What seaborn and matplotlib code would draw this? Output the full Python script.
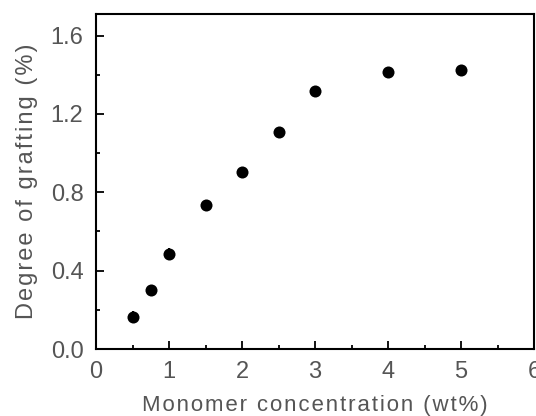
import numpy as np
import pandas as pd
import matplotlib
matplotlib.use("Agg")
import matplotlib.pyplot as plt
import seaborn as sns
from matplotlib.ticker import MultipleLocator

# data
conc = [0.5, 0.75, 1.0, 1.5, 2.0, 2.5, 3.0, 4.0, 5.0]
grafting = [0.165, 0.30, 0.485, 0.735, 0.905, 1.11, 1.315, 1.415, 1.425]
err = [0.03, 0.015, 0.03, 0.01, 0.025, 0.01, 0.01, 0.01, 0.01]

df = pd.DataFrame({"conc": conc, "grafting": grafting})

sns.set_style("white")
plt.rcParams["font.family"] = ["Liberation Sans", "DejaVu Sans"]


def spaced(s):
    # loose letter spacing like the original scan
    return "\u200a".join(s)


fig = plt.figure(figsize=(5.36, 4.16), dpi=100)
ax = fig.add_axes([96 / 536, 1 - 349 / 416, (534 - 96) / 536, (349 - 14) / 416])

ax.errorbar(conc, grafting, yerr=err, fmt="none", ecolor="black", elinewidth=1.5, capsize=0)
sns.scatterplot(data=df, x="conc", y="grafting", ax=ax, color="black",
                s=75, edgecolor="black", linewidth=0, zorder=3)

ax.set_xlim(0, 6)
ax.set_ylim(0, 1.71)
ax.xaxis.set_major_locator(MultipleLocator(1))
ax.xaxis.set_minor_locator(MultipleLocator(0.5))
ax.yaxis.set_major_locator(MultipleLocator(0.4))
ax.yaxis.set_minor_locator(MultipleLocator(0.2))
ax.yaxis.set_major_formatter(matplotlib.ticker.FormatStrFormatter("%.1f"))

ax.tick_params(which="both", direction="in", colors="black", labelcolor="#555555",
               labelsize=17, top=False, right=False, bottom=True, left=True)
ax.tick_params(which="major", length=6, width=1.3, pad=9)
ax.tick_params(which="minor", length=3, width=1.3)

for s in ax.spines.values():
    s.set_color("black")
    s.set_linewidth(1.5)

ax.set_xlabel(spaced("Monomer concentration (wt%)"), fontsize=16, color="#555555", labelpad=8)
ax.set_ylabel(spaced("Degree of grafting (%)"), fontsize=17, color="#555555", labelpad=9)

fig.savefig("out.png", dpi=100)
